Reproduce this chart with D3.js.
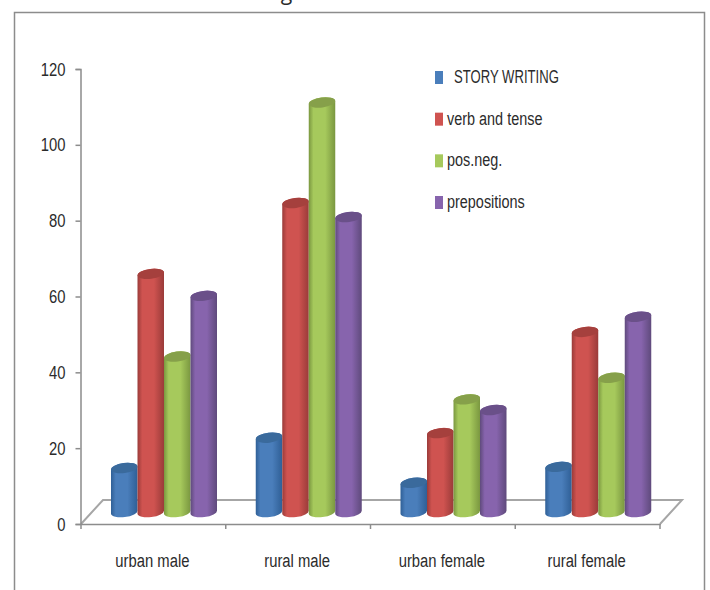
<!DOCTYPE html>
<html>
<head>
<meta charset="utf-8">
<script src="https://cdn.jsdelivr.net/npm/d3@7"></script>
<style>
  html, body { margin: 0; padding: 0; background: #fff; }
  svg { display: block; }
  text { font-family: "Liberation Sans", sans-serif; fill: #2b2b2b; }
</style>
</head>
<body>
<div class="canvas"></div>
<script>
// chart values
const categories = ['urban male', 'rural male', 'urban female', 'rural female'];
const seriesNames = ['STORY WRITING', 'verb and tense', 'pos.neg.', 'prepositions'];
const storyWriting = [11.6, 19.6, 7.7, 11.9];
const verbAndTense = [62.8, 81.5, 20.8, 47.5];
const posNeg = [41, 108, 29.7, 35.4];
const prepositions = [57, 77.8, 26.9, 51.5];
const yTicks = [0, 20, 40, 60, 80, 100, 120];

const allSeries = [storyWriting, verbAndTense, posNeg, prepositions];
const colors = [
  {side: '#4a7ebb', dark: '#2f5f96', top: '#3a6a9c'},
  {side: '#cf5350', dark: '#9a3b39', top: '#a5403d'},
  {side: '#a6c95c', dark: '#7a9740', top: '#86a04a'},
  {side: '#8764ad', dark: '#5f4a7c', top: '#6a5089'}
];

const svg = d3.select('.canvas').append('svg').attr('width', 710).attr('height', 590);

// the frame of the pasted picture, open at the bottom
svg.append('path')
  .attr('d', 'M14.5,590V12.5H704.5V590')
  .attr('fill', 'none').attr('stroke', '#8c8c8c').attr('stroke-width', 1.5);

// heading cut off by the top of the picture
svg.append('text').attr('x', 14).attr('y', 0)
  .style('font-family', '"Open Sans"').attr('font-size', 21.2)
  .text('table 4. Gender wise scoring');

const depthX = 22, depthY = 24;
const x = d3.scaleBand().domain(categories).range([81, 660]);
const y = d3.scaleLinear().domain([0, 120]).range([524, 69]);
const xBar = d3.scaleBand().domain(d3.range(4)).range([0, 106]);

// all chart text is squeezed sideways like the stretched original
const narrow = 0.78;

// floor
const floorBack = 524 - depthY;
svg.append('path')
  .attr('d', `M81,524L${81 + depthX},${floorBack}H${660 + depthX}L660,524`)
  .attr('fill', 'none').attr('stroke', '#a6a6a6').attr('stroke-width', 2);

// axes
const yAxis = d3.axisLeft(y).tickValues(yTicks).tickSize(5).tickSizeOuter(5);
const yAxisGroup = svg.append('g').attr('transform', 'translate(80.5,0)').call(yAxis);
const xAxis = d3.axisBottom(x).tickSize(0);
const xAxisGroup = svg.append('g').attr('transform', 'translate(0,524)').call(xAxis);
xAxisGroup.selectAll('.tick line').remove();
svg.append('g').selectAll('line').data([...categories.map(c => x(c)), 660]).join('line')
  .attr('x1', d => d).attr('x2', d => d).attr('y1', 524).attr('y2', 529)
  .attr('stroke', '#8c8c8c').attr('stroke-width', 1.5);
[yAxisGroup, xAxisGroup].forEach(g => {
  g.selectAll('path,line').attr('stroke', '#8c8c8c').attr('stroke-width', 1.5);
  g.selectAll('text').attr('font-size', 19).attr('font-family', null).attr('fill', '#2b2b2b');
});
yAxisGroup.selectAll('text').attr('x', 0).attr('transform', `translate(-15,0) scale(${narrow},1)`);
xAxisGroup.selectAll('text').attr('y', 0).attr('dy', null)
  .attr('transform', `translate(-1,43) scale(${narrow},1)`);

// gradients, dark at both edges of the cylinder
const defs = svg.append('defs');
colors.forEach((c, i) => {
  const g = defs.append('linearGradient').attr('id', 'cyl' + i);
  g.append('stop').attr('offset', '0%').attr('stop-color', c.dark);
  g.append('stop').attr('offset', '18%').attr('stop-color', c.side);
  g.append('stop').attr('offset', '62%').attr('stop-color', c.side);
  g.append('stop').attr('offset', '100%').attr('stop-color', c.dark);
});

// cylinders, drawn left to right so each overlaps the one before it
const barBase = 512;
const lift = d => y(0) - y(d);
const ry = 5, tilt = -7;
const rows = categories.flatMap((c, ci) => allSeries.map((s, si) => ({c, si, v: s[ci]})));
const bars = svg.append('g').selectAll('g').data(rows).join('g')
  .attr('transform', d => `translate(${x(d.c) + 30 + xBar(d.si)},0)`);
bars.append('path')
  .attr('fill', d => `url(#cyl${d.si})`)
  .attr('d', d => {
    const w = xBar.bandwidth(), r = w / 2, dy = r * Math.tan(tilt * Math.PI / 180);
    const top = barBase - lift(d.v);
    return `M0,${top - dy}A${r},${ry} ${tilt} 0 1 ${w},${top + dy}` +
      `V${barBase + dy}A${r},${ry} ${tilt} 0 1 0,${barBase - dy}Z`;
  });
bars.append('ellipse')
  .attr('fill', d => colors[d.si].top)
  .attr('rx', xBar.bandwidth() / 2).attr('ry', ry)
  .attr('transform', d => `translate(${xBar.bandwidth() / 2},${barBase - lift(d.v)}) rotate(${tilt})`);

// legend
const legendY = d3.scalePoint().domain(seriesNames).range([77, 202]);
const legend = svg.append('g').selectAll('g').data(seriesNames).join('g')
  .attr('transform', d => `translate(435,${legendY(d)})`);
legend.append('rect').attr('y', -6).attr('width', 8).attr('height', 13)
  .attr('fill', (d, i) => colors[i].side);
legend.append('text').attr('font-size', 19)
  .attr('transform', (d, i) => `translate(${i === 0 ? 19 : 12},6) scale(${i === 0 ? 0.69 : 0.76},1)`)
  .text(d => d);
</script>
</body>
</html>
